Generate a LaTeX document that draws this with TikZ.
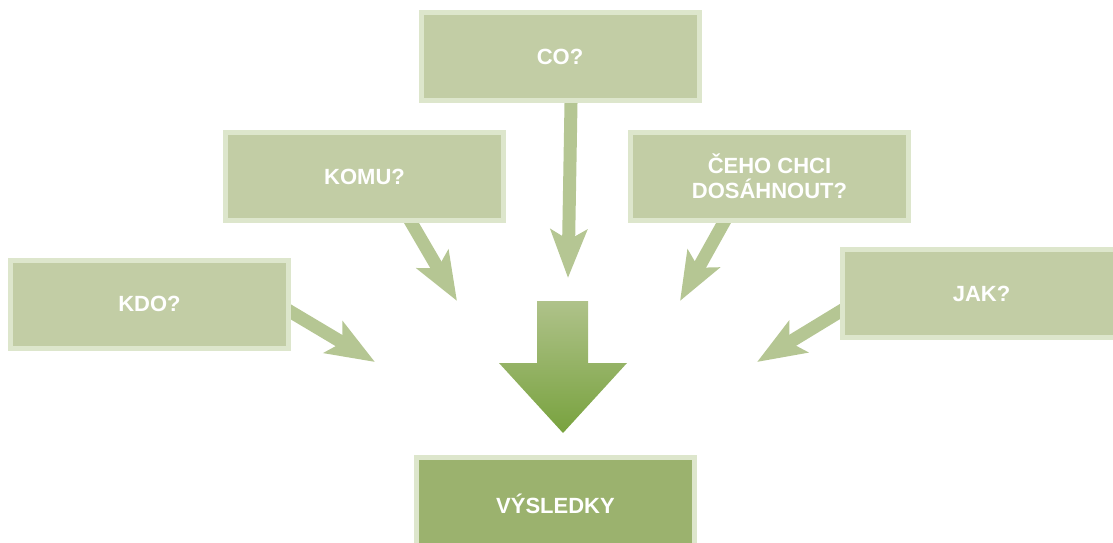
\documentclass[tikz,border=0pt]{standalone}
\usepackage{fontspec}
\setmainfont{Liberation Sans}
\usetikzlibrary{arrows.meta,positioning,calc,backgrounds}
\definecolor{gBox}{HTML}{C2CDA5}
\definecolor{gEdge}{HTML}{DDE6CC}
\definecolor{gDark}{HTML}{9BB26E}
\definecolor{gArrow}{HTML}{B5C693}
\definecolor{gTop}{HTML}{AFC28A}
\definecolor{gBottom}{HTML}{78A23E}

\begin{document}
\begin{tikzpicture}[x=1pt,y=1pt,
    qbox/.style={draw=gEdge, line width=5pt, fill=gBox, minimum width=278pt,
      minimum height=88pt, inner sep=0pt, text=white, align=center,
      font=\bfseries\fontsize{22}{25}\selectfont},
    qarrow/.style={gArrow, line width=13pt, shorten <=-20pt,
      -{Stealth[length=48pt,width=36pt,inset=10pt]}}]
  \useasboundingbox (0,0) rectangle (1113,542);
  \clip (0,0) rectangle (1113,542);

  % questions
  \node[qbox] (co) at (560,485.5) {CO?};
  \node[qbox] (komu) at (364.5,365.5) {KOMU?};
  \node[qbox] (ceho) at (769.5,365.5) {ČEHO CHCI\\DOSÁHNOUT?};
  \node[qbox] (kdo) at (149.5,238) {KDO?};
  \node[qbox] (jak) at (981.5,248.5) {JAK?};
  \node[qbox, fill=gDark, minimum height=93pt] (vysledky) at (555.5,38) {VÝSLEDKY};

  % arrow tips
  \coordinate (kdoTip) at (375,180);
  \coordinate (komuTip) at (457,241);
  \coordinate (coTip) at (568,264);
  \coordinate (cehoTip) at (680,241);
  \coordinate (jakTip) at (757,180);

  \begin{scope}[on background layer]
    \draw[qarrow] ([yshift=-8pt]kdo.east) -- (kdoTip);
    \draw[qarrow] ([xshift=47pt]komu.south) -- (komuTip);
    \draw[qarrow] ([xshift=11pt]co.south) -- (coTip);
    \draw[qarrow] ([xshift=-46pt]ceho.south) -- (cehoTip);
    \draw[qarrow] ([yshift=-18pt]jak.west) -- (jakTip);
  \end{scope}

  % big arrow
  \shade[top color=gTop, bottom color=gBottom]
    (537,241) -- (588,241) -- (588,179) -- (627,179) -- (563,109)
    -- (499,179) -- (537,179) -- cycle;
\end{tikzpicture}
\end{document}
